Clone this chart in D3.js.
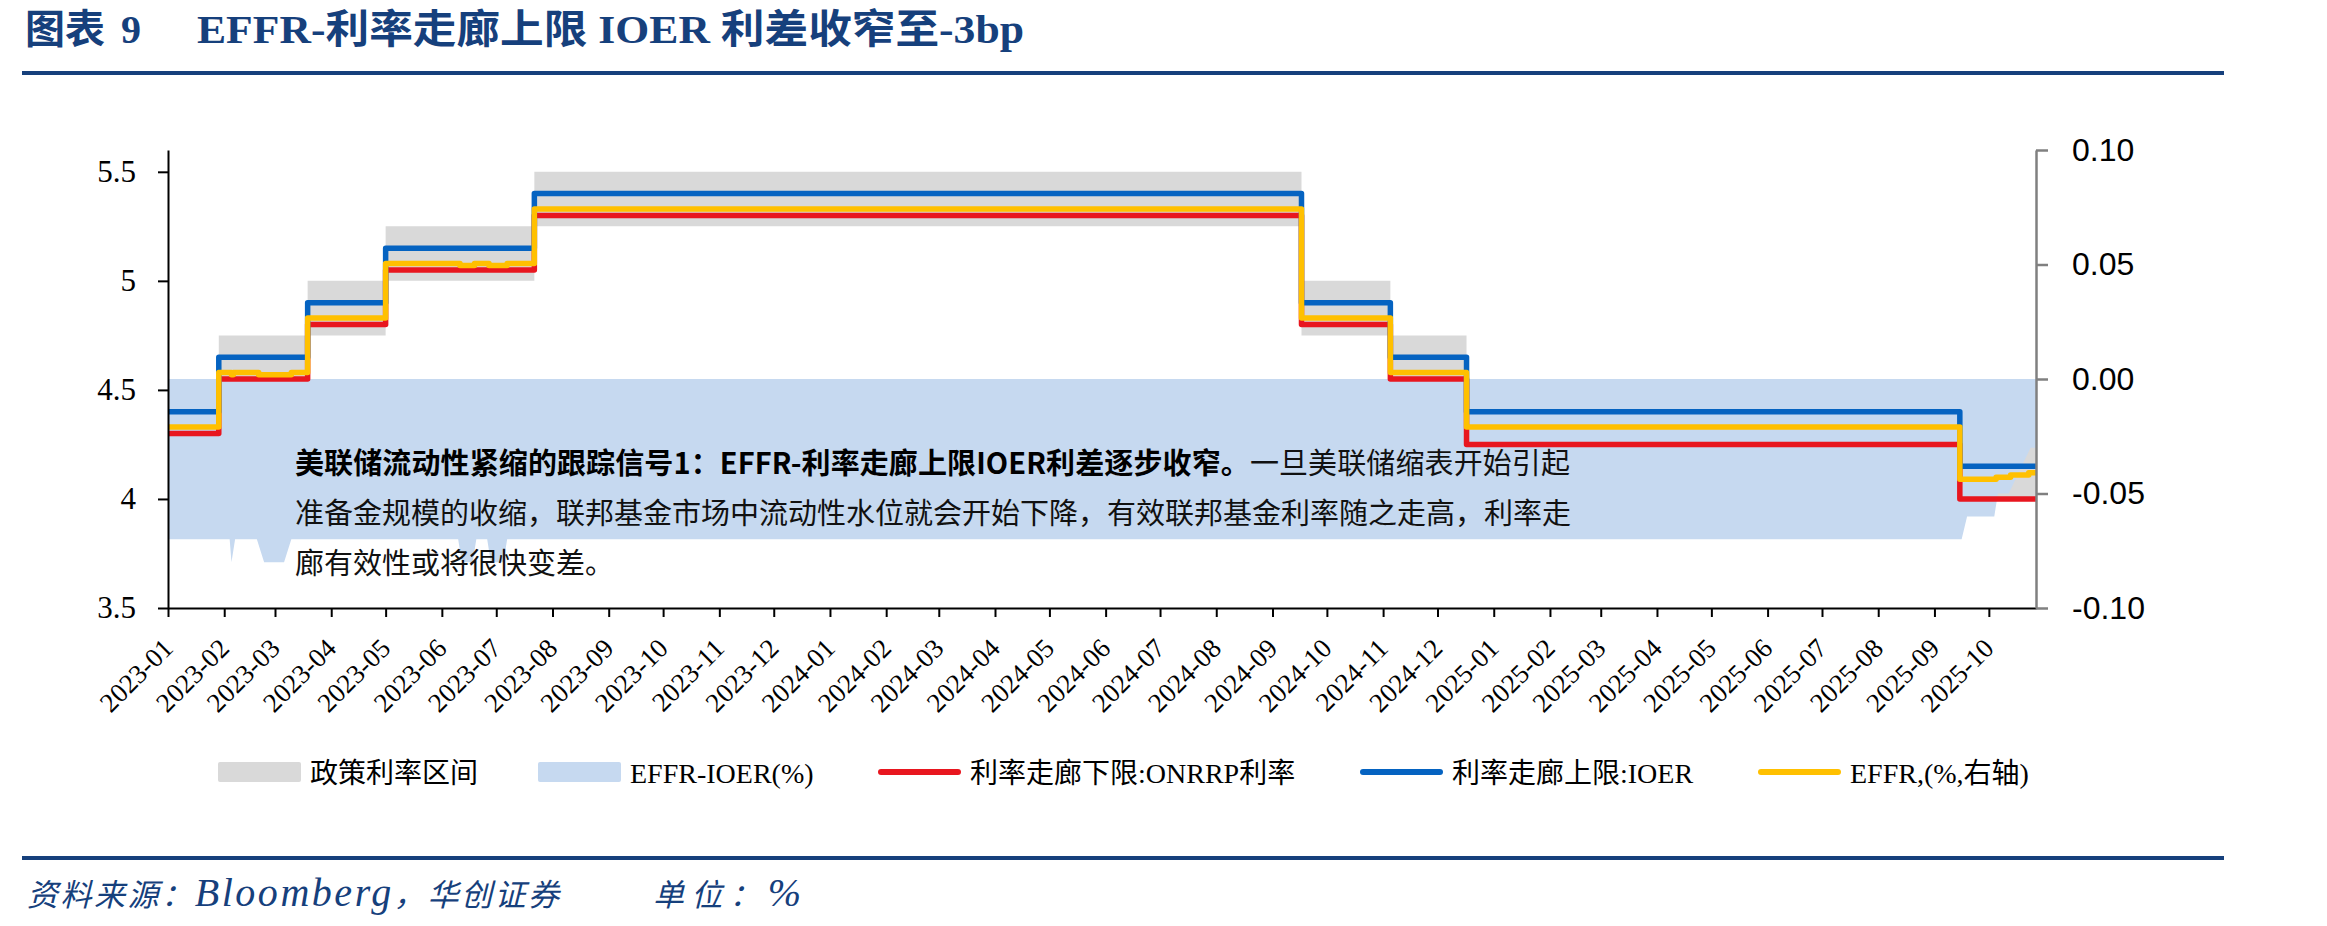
<!DOCTYPE html>
<html>
<head>
<meta charset="utf-8">
<script src="https://cdn.jsdelivr.net/npm/d3@7"></script>
<style>
  body { margin: 0; background: #fff; }
  svg { display: block; }
</style>
</head>
<body>
<svg id="chart" width="2327" height="926"></svg>
<script>
// policy steps: each value holds from its date until the next one
const stepDates  = ["2023-01-01","2023-01-29","2023-03-19","2023-05-01","2023-07-22","2024-09-17","2024-11-05","2024-12-17","2025-09-15","2025-10-27"];
const policyLow  = [4.25, 4.50, 4.75, 5.00, 5.25, 4.75, 4.50, 4.25, 4.00, 4.00];
const policyHigh = [4.50, 4.75, 5.00, 5.25, 5.50, 5.00, 4.75, 4.50, 4.25, 4.25];
const onrrp      = [4.30, 4.55, 4.80, 5.05, 5.30, 4.80, 4.55, 4.25, 4.00, 4.00];
const ioer       = [4.40, 4.65, 4.90, 5.15, 5.40, 4.90, 4.65, 4.40, 4.15, 4.15];

// EFFR, also stepped
const effrDates = ["2023-01-01","2023-01-29","2023-02-05","2023-02-06","2023-02-20","2023-03-10","2023-03-19",
  "2023-05-01","2023-06-11","2023-06-19","2023-06-27","2023-07-07","2023-07-22","2024-09-17","2024-11-05",
  "2024-12-17","2025-09-15","2025-10-05","2025-10-13","2025-10-23","2025-10-27"];
const effr = [4.33, 4.58, 4.57, 4.58, 4.57, 4.58, 4.83,
  5.08, 5.07, 5.08, 5.07, 5.08, 5.33, 4.83, 4.58,
  4.33, 4.09, 4.10, 4.11, 4.12, 4.12];

// EFFR-IOER (right axis), area vertices
const spreadDates = ["2023-01-01","2023-02-04","2023-02-05","2023-02-07","2023-02-19","2023-02-23","2023-03-06","2023-03-10",
  "2023-06-10","2023-06-12","2023-06-18","2023-06-20","2023-06-26","2023-06-28","2023-07-05","2023-07-07",
  "2025-09-16","2025-09-19","2025-10-04","2025-10-06","2025-10-12","2025-10-18","2025-10-24","2025-10-27"];
const spread = [-0.07, -0.07, -0.08, -0.07, -0.07, -0.08, -0.08, -0.07,
  -0.07, -0.08, -0.08, -0.07, -0.07, -0.08, -0.08, -0.07,
  -0.07, -0.06, -0.06, -0.05, -0.05, -0.04, -0.03, -0.03];

const leftTicks  = [3.5, 4, 4.5, 5, 5.5];
const rightTicks = [-0.10, -0.05, 0.00, 0.05, 0.10];
const xDomain    = ["2023-01-01", "2025-10-27"];

const legendItems = [
  { label: "政策利率区间",          kind: "rect", color: "#D9D9D9", x: 218 },
  { label: "EFFR-IOER(%)",          kind: "rect", color: "#C6D9F0", x: 538 },
  { label: "利率走廊下限:ONRRP利率", kind: "line", color: "#E8161F", x: 878 },
  { label: "利率走廊上限:IOER",      kind: "line", color: "#0563C1", x: 1360 },
  { label: "EFFR,(%,右轴)",          kind: "line", color: "#FFC000", x: 1758 }
];

const NAVY = "#16407C";
const SERIF = "'Liberation Serif','Noto Sans CJK SC',serif";
const SANS_CJK = "'Noto Sans CJK SC',sans-serif";

const parse = d3.timeParse("%Y-%m-%d");
const svg = d3.select("#chart");

const x  = d3.scaleTime().domain(xDomain.map(parse)).range([168, 2036]);
const yL = d3.scaleLinear().domain([3.5, 5.6]).range([608, 150]);
const yR = d3.scaleLinear().domain([-0.10, 0.10]).range([608, 150]);

// title + rules
const title = svg.append("g").attr("fill", NAVY).style("font-family", SERIF)
  .attr("font-weight", "bold").attr("font-size", 40);
title.append("text").attr("x", 25).attr("y", 43).text("图表");
title.append("text").attr("x", 121).attr("y", 43).text("9");
title.append("text").attr("x", 197).attr("y", 43)
  .attr("textLength", 827).attr("lengthAdjust", "spacingAndGlyphs")
  .text("EFFR-利率走廊上限 IOER 利差收窄至-3bp");
svg.append("rect").attr("x", 22).attr("y", 71).attr("width", 2202).attr("height", 4).attr("fill", NAVY);
svg.append("rect").attr("x", 22).attr("y", 856).attr("width", 2202).attr("height", 4).attr("fill", NAVY);

// policy band
const band = stepDates.map((d, i) => ({ d: parse(d), lo: policyLow[i], hi: policyHigh[i] }));
svg.append("path").datum(band)
  .attr("fill", "#D9D9D9")
  .attr("d", d3.area().x(p => x(p.d)).y0(p => yL(p.lo)).y1(p => yL(p.hi)).curve(d3.curveStepAfter));

// spread area on right axis
const sp = spreadDates.map((d, i) => ({ d: parse(d), v: spread[i] }));
svg.append("path").datum(sp)
  .attr("fill", "#C6D9F0")
  .attr("d", d3.area().x(p => x(p.d)).y0(yR(0)).y1(p => yR(p.v)));

// rate lines
const line = d3.line().x(p => x(p.d)).y(p => yL(p.v)).curve(d3.curveStepAfter);
function series(dates, vals) { return dates.map((d, i) => ({ d: parse(d), v: vals[i] })); }
[[series(stepDates, onrrp), "#E8161F"],
 [series(stepDates, ioer), "#0563C1"],
 [series(effrDates, effr), "#FFC000"]].forEach(([data, color]) => {
  svg.append("path").datum(data)
    .attr("fill", "none").attr("stroke", color).attr("stroke-width", 5.5)
    .attr("stroke-linejoin", "round")
    .attr("d", line);
});

// axes
const gL = svg.append("g").attr("transform", "translate(168,0)")
  .call(d3.axisLeft(yL).tickValues(leftTicks).tickSize(10).tickSizeOuter(0).tickPadding(22).tickFormat(d => String(d)));
gL.selectAll("path,line").attr("stroke", "#000").attr("stroke-width", 2);
gL.selectAll("text").style("font-family", SERIF).style("font-size", "31px").attr("fill", "#000");

const gB = svg.append("g").attr("transform", "translate(0,608)")
  .call(d3.axisBottom(x).ticks(d3.timeMonth.every(1)).tickFormat(d3.timeFormat("%Y-%m")).tickSize(9).tickSizeOuter(0));
gB.selectAll("path,line").attr("stroke", "#000").attr("stroke-width", 2);
gB.selectAll("text")
  .style("font-family", SERIF).style("font-size", "27px").attr("fill", "#000")
  .attr("text-anchor", "end").attr("x", 0).attr("y", 0).attr("dy", null)
  .attr("transform", "translate(6,42) rotate(-45)");

const gR = svg.append("g").attr("transform", "translate(2036,0)")
  .call(d3.axisRight(yR).tickValues(rightTicks).tickSize(12).tickSizeOuter(0).tickPadding(24).tickFormat(d => d.toFixed(2)));
gR.selectAll("path,line").attr("stroke", "#808080").attr("stroke-width", 2.5);
gR.selectAll("text").style("font-family", "'Liberation Sans',Arial,sans-serif").style("font-size", "32px").attr("fill", "#000");

// annotation
const note = svg.append("g").style("font-family", SANS_CJK).attr("font-size", 29).attr("fill", "#111");
const l1 = note.append("text").attr("x", 295).attr("y", 474).attr("textLength", 1275).attr("lengthAdjust", "spacing");
l1.append("tspan").attr("font-weight", "bold").attr("fill", "#000").text("美联储流动性紧缩的跟踪信号1：EFFR-利率走廊上限IOER利差逐步收窄。");
l1.append("tspan").text("一旦美联储缩表开始引起");
note.append("text").attr("x", 295).attr("y", 524)
  .text("准备金规模的收缩，联邦基金市场中流动性水位就会开始下降，有效联邦基金利率随之走高，利率走");
note.append("text").attr("x", 295).attr("y", 574).text("廊有效性或将很快变差。");

// legend
const lg = svg.append("g").style("font-family", SERIF).attr("font-size", 28).attr("fill", "#000");
legendItems.forEach(it => {
  if (it.kind === "rect") {
    lg.append("rect").attr("x", it.x).attr("y", 762).attr("width", 83).attr("height", 20)
      .attr("rx", 2).attr("fill", it.color);
  } else {
    lg.append("line").attr("x1", it.x + 3).attr("x2", it.x + 80).attr("y1", 772).attr("y2", 772)
      .attr("stroke", it.color).attr("stroke-width", 6).attr("stroke-linecap", "round");
  }
  lg.append("text").attr("x", it.x + 92).attr("y", 783).text(it.label);
});

// source
const src = svg.append("g").attr("fill", NAVY).style("font-family", SERIF)
  .attr("font-style", "italic").attr("font-size", 31);
const s1 = src.append("text").attr("x", 27).attr("y", 906).attr("textLength", 532).attr("lengthAdjust", "spacing");
s1.append("tspan").text("资料来源：");
s1.append("tspan").attr("font-size", 40).text("Bloomberg");
s1.append("tspan").text("，华创证券");
const s2 = src.append("text").attr("x", 653).attr("y", 906).attr("textLength", 148).attr("lengthAdjust", "spacing");
s2.append("tspan").text("单位：");
s2.append("tspan").attr("font-size", 40).text("%");
</script>
</body>
</html>
